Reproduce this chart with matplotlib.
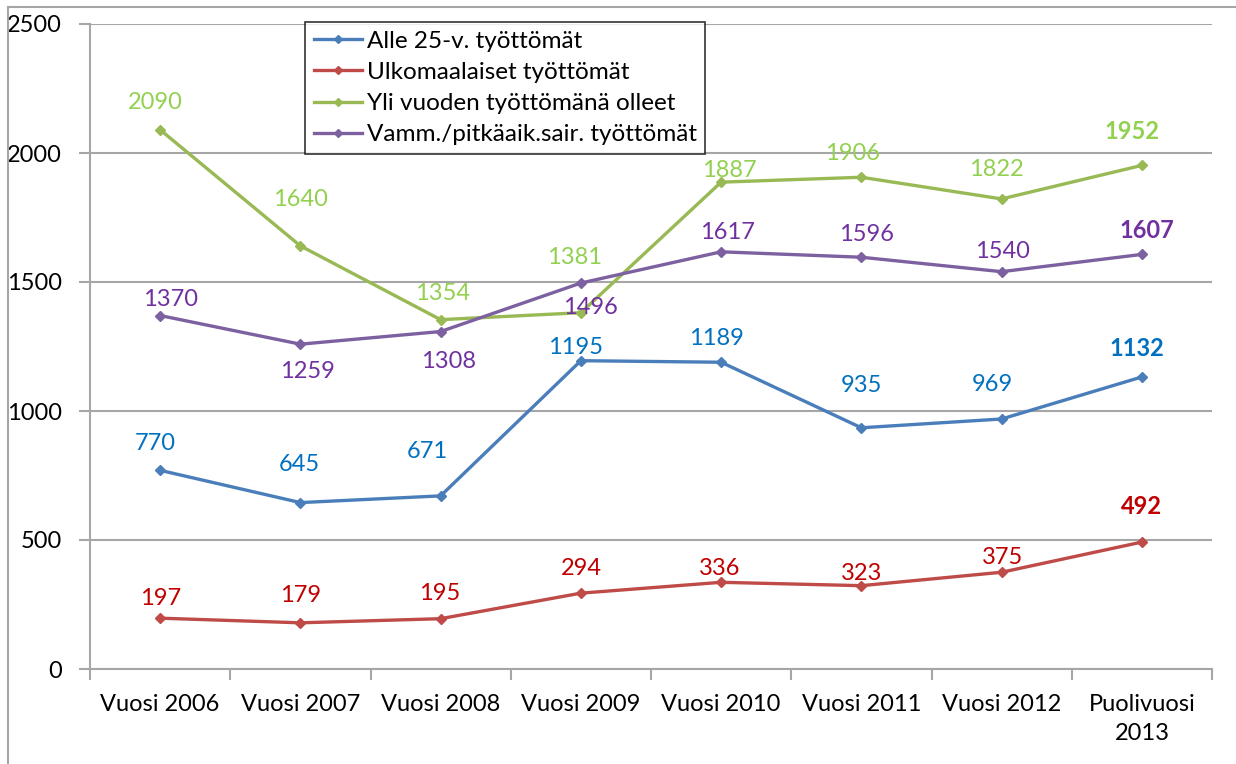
import matplotlib
matplotlib.use("Agg")
import matplotlib.pyplot as plt
from matplotlib.lines import Line2D

plt.rcParams['font.family'] = ['Lato', 'DejaVu Sans']

categories = ["Vuosi 2006", "Vuosi 2007", "Vuosi 2008", "Vuosi 2009",
              "Vuosi 2010", "Vuosi 2011", "Vuosi 2012", "Puolivuosi\n2013"]
alle25 = [770, 645, 671, 1195, 1189, 935, 969, 1132]
ulkomaalaiset = [197, 179, 195, 294, 336, 323, 375, 492]
yli_vuoden = [2090, 1640, 1354, 1381, 1887, 1906, 1822, 1952]
vammaiset = [1370, 1259, 1308, 1496, 1617, 1596, 1540, 1607]
names = ["Alle 25-v. työttömät", "Ulkomaalaiset työttömät",
         "Yli vuoden työttömänä olleet", "Vamm./pitkäaik.sair. työttömät"]

# label offsets in pixels (dx, dy), hand placed like in the original
off_blue = [(-5, 27), (-1, 38), (-13, 44), (-5, 13), (-5, 24), (0, 42), (-9, 34), (-5, 28)]
off_red = [(0, 20), (0, 27), (-1, 25), (0, 25), (-1, 14), (0, 12), (1, 15), (0, 36)]
off_green = [(-5, 27), (0, 46), (2, 26), (-6, 55), (8, 12), (-9, 24), (-5, 29), (-10, 34)]
off_purple = [(10, 16), (7, -27), (8, -30), (10, -24), (6, 19), (5, 23), (1, 20), (5, 24)]

series = [
    (alle25, '#4A7EBB', '#0070C0', off_blue),
    (ulkomaalaiset, '#BE4B48', '#C00000', off_red),
    (yli_vuoden, '#98B954', '#92D050', off_green),
    (vammaiset, '#7D60A0', '#7030A0', off_purple),
]

fig = plt.figure(figsize=(12.36, 7.64), dpi=100)
ax = fig.add_axes([90/1236, 95/764, 1122/1236, 645/764])

x = list(range(len(categories)))
for (vals, lc, tc, offs), nm in zip(series, names):
    ax.plot(x, vals, color=lc, lw=2.4, marker='D', ms=5.5, mec=lc, mfc=lc, zorder=3)
    for i, v in enumerate(vals):
        last = i == len(vals) - 1
        ax.annotate(str(v), (i, v), xytext=offs[i], textcoords='offset pixels',
                    ha='center', va='center', color=tc, fontsize=17,
                    fontweight='bold' if last else 'normal', zorder=4)

ax.set_xlim(-0.5, 7.5)
ax.set_ylim(0, 2500)
ax.set_yticks([0, 500, 1000, 1500, 2000, 2500])
ax.yaxis.grid(True, color='#A6A6A6', lw=1.5)
ax.set_axisbelow(True)
for s in ['top', 'right']:
    ax.spines[s].set_visible(False)
for s in ['left', 'bottom']:
    ax.spines[s].set_color('#A6A6A6')
    ax.spines[s].set_linewidth(1.5)

ax.set_xticks([i + 0.5 for i in range(-1, 8)], minor=False)
ax.set_xticklabels([])
ax.set_xticks(x, minor=True)
ax.set_xticklabels(categories, minor=True, fontsize=17, linespacing=1.45)
ax.tick_params(axis='x', which='major', length=8, color='#A6A6A6', width=1.5)
ax.tick_params(axis='x', which='minor', length=0, pad=18)
ax.tick_params(axis='y', length=8, color='#A6A6A6', width=1.5, labelsize=17, pad=12)

handles = [Line2D([], [], color=lc, lw=2.4, marker='D', ms=4) for (_, lc, _, _) in series]
leg = ax.legend(handles, names, loc='upper left', bbox_to_anchor=(215/1122, 1.003),
                fontsize=17.5, frameon=True, fancybox=False, edgecolor='black',
                handlelength=2.0, handletextpad=0.2, labelspacing=0.42,
                borderpad=0.35, borderaxespad=0)
leg.get_frame().set_linewidth(1.2)

# outer chart border
fig.add_artist(Line2D([8/1236, 8/1236], [0, 757/764], color='#A6A6A6', lw=1.5))
fig.add_artist(Line2D([8/1236, 1], [757/764, 757/764], color='#A6A6A6', lw=1.5))

fig.savefig('out.png', dpi=100)
